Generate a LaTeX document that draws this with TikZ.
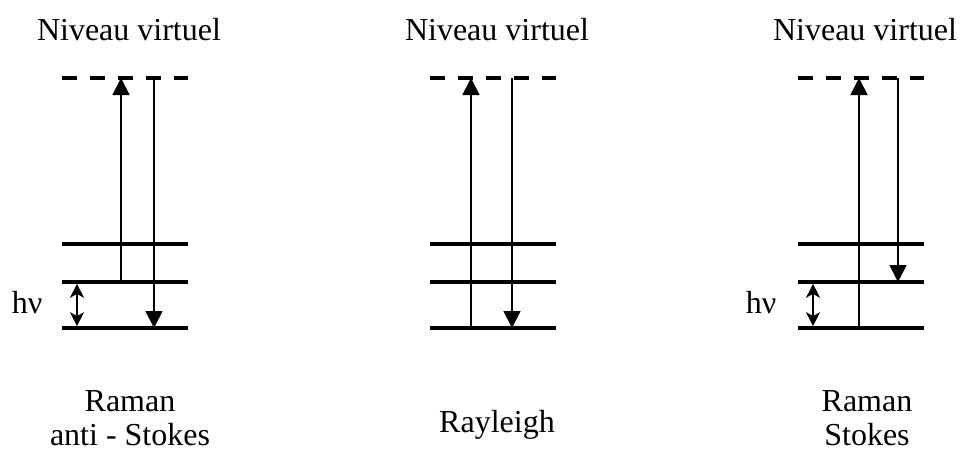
\documentclass[tikz,border=0pt]{standalone}
\usepackage{fontspec}
\setmainfont{Liberation Serif}
\usetikzlibrary{arrows.meta}
\begin{document}
\begin{tikzpicture}[x=1pt,y=-1pt,
  lbl/.style={font=\fontsize{32}{38}\selectfont, anchor=base, inner sep=0pt},
  level/.style={line width=3.6pt},
  vlevel/.style={line width=3.6pt, dash pattern=on 15pt off 13pt},
  trans/.style={line width=1.8pt, -{Triangle[length=17pt,width=17pt]}},
  energy/.style={line width=2pt, {Stealth[length=14pt,width=14pt,inset=4pt]}-{Stealth[length=14pt,width=14pt,inset=4pt]}}]
\useasboundingbox (0,0) rectangle (960,450);

% ---------- Left: Raman anti-Stokes ----------
\coordinate (a0l) at (62,328); \coordinate (a0r) at (188,328);
\coordinate (a1l) at (62,282); \coordinate (a1r) at (188,282);
\coordinate (a2l) at (62,244); \coordinate (a2r) at (188,244);
\coordinate (avl) at (62,78);  \coordinate (avr) at (188,78);
\draw[vlevel] (avl) -- (avr);
\draw[level] (a2l) -- (a2r);
\draw[level] (a1l) -- (a1r);
\draw[level] (a0l) -- (a0r);
\coordinate (aus) at (121,282); \coordinate (aue) at (121,78);
\coordinate (ads) at (154,78);  \coordinate (ade) at (154,328);
\draw[trans] (aus) -- (aue);
\draw[trans] (ads) -- (ade);
\coordinate (ahs) at (77,283.8); \coordinate (ahe) at (77,326.2);
\draw[energy] (ahs) -- (ahe);
\node[lbl] (ahv) at (27,313) {hν};
\node[lbl] (atitle) at (129,40) {Niveau virtuel};
\node[lbl] (aname1) at (130,411) {Raman};
\node[lbl] (aname2) at (130,445) {anti - Stokes};

% ---------- Middle: Rayleigh ----------
\coordinate (b0l) at (430,328); \coordinate (b0r) at (556,328);
\coordinate (b1l) at (430,282); \coordinate (b1r) at (556,282);
\coordinate (b2l) at (430,244); \coordinate (b2r) at (556,244);
\coordinate (bvl) at (430,78);  \coordinate (bvr) at (556,78);
\draw[vlevel] (bvl) -- (bvr);
\draw[level] (b2l) -- (b2r);
\draw[level] (b1l) -- (b1r);
\draw[level] (b0l) -- (b0r);
\coordinate (bus) at (471,328); \coordinate (bue) at (471,78);
\coordinate (bds) at (512,78);  \coordinate (bde) at (512,328);
\draw[trans] (bus) -- (bue);
\draw[trans] (bds) -- (bde);
\node[lbl] (btitle) at (497,40) {Niveau virtuel};
\node[lbl] (bname) at (497,432) {Rayleigh};

% ---------- Right: Raman Stokes ----------
\coordinate (c0l) at (798,328); \coordinate (c0r) at (924,328);
\coordinate (c1l) at (798,282); \coordinate (c1r) at (924,282);
\coordinate (c2l) at (798,244); \coordinate (c2r) at (924,244);
\coordinate (cvl) at (798,78);  \coordinate (cvr) at (924,78);
\draw[vlevel] (cvl) -- (cvr);
\draw[level] (c2l) -- (c2r);
\draw[level] (c1l) -- (c1r);
\draw[level] (c0l) -- (c0r);
\coordinate (cus) at (859,328); \coordinate (cue) at (859,78);
\coordinate (cds) at (898,78);  \coordinate (cde) at (898,282);
\draw[trans] (cus) -- (cue);
\draw[trans] (cds) -- (cde);
\coordinate (chs) at (813,283.8); \coordinate (che) at (813,326.2);
\draw[energy] (chs) -- (che);
\node[lbl] (chv) at (761,313) {hν};
\node[lbl] (ctitle) at (865,40) {Niveau virtuel};
\node[lbl] (cname1) at (867,411) {Raman};
\node[lbl] (cname2) at (867,445) {Stokes};
\end{tikzpicture}
\end{document}
